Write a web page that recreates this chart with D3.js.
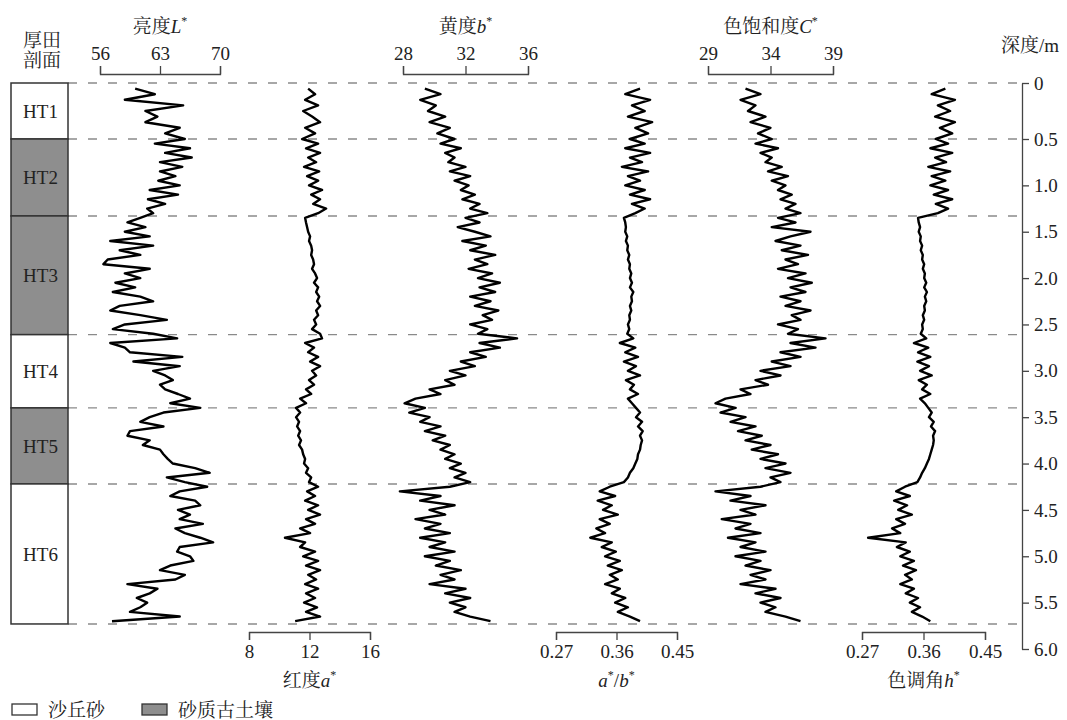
<!DOCTYPE html>
<html>
<head>
<meta charset="utf-8">
<script src="https://cdn.jsdelivr.net/npm/d3@7/dist/d3.min.js"></script>
<style>
  body { margin: 0; background: #fff; }
  svg text { font-family: "Liberation Serif", "Noto Serif CJK SC", "Noto Sans CJK SC", serif; fill: #222; }
</style>
</head>
<body>
<svg id="chart" width="1067" height="720"></svg>
<script>
// sample depths (m), every 5 cm from 0.05 to 5.70
var depth = d3.range(1, 115).map(function (i) { return +(i * 0.05).toFixed(2); });

var layerNames = ['HT1', 'HT2', 'HT3', 'HT4', 'HT5', 'HT6'];
var layerTops = [0, 0.5, 1.33, 2.61, 3.40, 4.22];
var layerBottoms = [0.5, 1.33, 2.61, 3.40, 4.22, 5.73];
var layerSoil = [false, true, true, false, true, false];

var depthTicks = [0, 0.5, 1.0, 1.5, 2.0, 2.5, 3.0, 3.5, 4.0, 4.5, 5.0, 5.5, 6.0];

// 亮度 L*
var lightL = [60.1, 62.4, 58.9, 65.7, 61.3, 62.7, 61.3, 65.3, 63.6, 65.9,
  62.4, 66.5, 63.6, 66.7, 63.0, 65.6, 63.0, 64.8, 62.8, 65.3, 61.8, 65.1, 61.6, 63.6, 61.5, 62.2,
  60.7, 59.2, 61.3, 58.9, 61.8, 57.2, 62.2, 58.3, 60.7, 56.9, 56.4, 61.8, 58.9, 60.7, 57.8, 60.1, 57.5, 60.7, 62.2, 58.3, 57.2, 60.7, 63.8, 58.9, 57.5, 62.2,
  65.0, 57.2, 58.9, 59.5, 65.6, 59.9, 65.3, 62.2, 63.6, 64.5, 63.0, 63.6, 65.1, 66.5, 64.2, 67.7,
  63.4, 61.8, 60.7, 63.4, 59.5, 59.2, 61.8, 61.0, 63.0, 63.4, 63.9, 64.5, 67.1, 68.8, 63.8, 65.9,
  68.5, 65.3, 64.2, 67.1, 67.7, 65.1, 66.5, 65.3, 68.0, 64.8, 65.9, 67.7, 69.2, 65.3, 65.0, 66.5, 66.9, 64.2, 63.0, 65.9, 64.8, 59.2, 62.7, 61.8, 60.3, 61.5, 60.7, 59.5, 65.3, 57.4];

// 红度 a*
var redA = [11.91, 12.37, 11.71, 12.57, 11.58, 12.17, 12.70, 11.71, 12.37, 11.51,
  12.57, 11.77, 12.70, 11.91, 12.44, 11.64, 12.64, 11.84, 12.57, 11.97, 12.83, 12.11, 12.70, 12.24, 13.10, 12.57,
  11.71, 11.77, 11.84, 11.91, 12.04, 11.97, 12.11, 12.17, 12.11, 12.24, 12.30, 12.17, 12.37, 12.50, 12.30, 12.57, 12.44, 12.64, 12.50, 12.70, 12.44, 12.57, 12.30, 12.44, 12.17, 12.70,
  12.83, 11.71, 12.30, 11.91, 12.57, 12.04, 12.70, 12.17, 12.44, 11.97, 12.30, 11.77, 12.11, 11.38, 11.77, 11.11,
  11.38, 11.11, 11.31, 11.18, 11.38, 11.25, 11.44, 11.31, 11.51, 11.58, 11.71, 11.64, 11.91, 11.77, 12.11, 11.97,
  12.57, 11.84, 12.37, 11.71, 12.57, 11.91, 12.70, 11.77, 12.37, 11.38, 12.04, 10.38, 11.71, 11.38, 12.37, 11.58, 12.57, 11.77, 12.70, 11.91, 12.44, 11.71, 12.57, 11.77, 12.37, 11.64, 12.50, 11.77, 12.70, 11.05];

// 黄度 b*
var yellowB = [29.4, 30.4, 29.1, 30.1, 29.6, 30.7, 29.7, 31.0, 30.2, 31.3,
  30.4, 31.7, 30.7, 31.3, 30.9, 32.0, 31.0, 32.3, 31.3, 32.2, 31.7, 32.6, 31.8, 32.9, 32.3, 33.4,
  32.0, 32.9, 31.5, 32.6, 33.6, 31.8, 33.3, 32.3, 33.9, 32.6, 33.4, 32.2, 33.7, 32.8, 34.2, 32.9, 33.9, 32.3, 33.6, 32.6, 34.1, 33.1, 33.7, 32.3, 33.4, 32.8,
  35.3, 32.9, 34.2, 32.3, 33.3, 31.7, 32.6, 31.0, 32.0, 30.7, 31.3, 29.7, 30.4, 28.8, 28.1, 29.4,
  28.4, 29.7, 29.1, 30.4, 29.4, 30.7, 29.9, 31.0, 30.4, 31.3, 30.7, 31.7, 31.0, 32.0, 31.3, 32.3,
  31.0, 27.8, 30.4, 29.1, 31.3, 29.7, 30.7, 28.8, 30.4, 29.4, 31.0, 29.1, 30.7, 29.7, 31.3, 29.4, 31.0, 30.1, 31.7, 30.4, 31.3, 29.7, 32.0, 30.7, 32.3, 31.0, 32.0, 31.3, 32.3, 33.6];

// a*/b*
var ratioAB = [0.395, 0.373, 0.410, 0.383, 0.402, 0.377, 0.413, 0.388, 0.407, 0.380,
  0.402, 0.373, 0.410, 0.380, 0.398, 0.368, 0.407, 0.377, 0.395, 0.373, 0.402, 0.380, 0.410, 0.383, 0.402, 0.388,
  0.371, 0.373, 0.374, 0.373, 0.376, 0.374, 0.377, 0.376, 0.379, 0.377, 0.380, 0.379, 0.382, 0.380, 0.383, 0.380, 0.385, 0.382, 0.383, 0.380, 0.382, 0.379, 0.380, 0.377, 0.379, 0.376,
  0.385, 0.365, 0.388, 0.373, 0.392, 0.371, 0.389, 0.377, 0.395, 0.374, 0.386, 0.380, 0.392, 0.377, 0.383, 0.389,
  0.395, 0.389, 0.398, 0.392, 0.399, 0.395, 0.398, 0.396, 0.395, 0.392, 0.391, 0.388, 0.385, 0.380, 0.377, 0.371,
  0.350, 0.335, 0.358, 0.332, 0.353, 0.340, 0.362, 0.335, 0.350, 0.330, 0.343, 0.321, 0.353, 0.338, 0.359, 0.343, 0.365, 0.347, 0.368, 0.350, 0.362, 0.343, 0.365, 0.353, 0.373, 0.358, 0.377, 0.362, 0.380, 0.395];

// 色饱和度 C*
var chromaC = [32.0, 33.2, 31.6, 32.8, 32.2, 33.6, 32.4, 34.0, 33.0, 34.1,
  32.8, 34.6, 33.2, 34.1, 33.6, 34.9, 33.8, 35.4, 34.1, 35.2, 34.6, 35.7, 34.8, 36.0, 35.2, 36.4,
  34.6, 36.0, 34.1, 37.2, 35.6, 34.4, 36.4, 34.9, 37.0, 35.2, 36.2, 34.6, 36.8, 35.4, 37.3, 35.6, 36.8, 34.8, 36.4, 35.2, 37.2, 35.7, 36.4, 34.6, 36.2, 35.4,
  38.4, 35.6, 37.6, 34.8, 36.4, 34.1, 35.6, 33.2, 34.8, 32.8, 33.8, 31.6, 32.4, 30.4, 29.6, 31.2,
  30.0, 32.0, 30.8, 32.8, 31.4, 33.3, 32.0, 34.0, 32.5, 34.6, 33.2, 35.2, 33.6, 35.6, 34.0, 34.8,
  33.2, 29.6, 32.4, 30.8, 33.6, 31.6, 32.8, 30.1, 32.4, 31.2, 33.2, 30.6, 32.8, 31.6, 33.6, 31.2, 33.2, 32.0, 34.0, 32.4, 33.6, 31.6, 34.4, 32.8, 34.8, 33.2, 34.4, 33.6, 35.2, 36.4];

// 色调角 h*
var hueH = [0.392, 0.372, 0.406, 0.381, 0.399, 0.377, 0.406, 0.384, 0.402, 0.378,
  0.396, 0.370, 0.402, 0.377, 0.393, 0.367, 0.399, 0.372, 0.392, 0.370, 0.396, 0.375, 0.402, 0.378, 0.396, 0.381,
  0.352, 0.353, 0.355, 0.353, 0.356, 0.355, 0.358, 0.356, 0.359, 0.358, 0.361, 0.359, 0.362, 0.361, 0.364, 0.361, 0.365, 0.362, 0.364, 0.361, 0.362, 0.359, 0.361, 0.358, 0.359, 0.356,
  0.364, 0.346, 0.367, 0.352, 0.370, 0.351, 0.368, 0.355, 0.372, 0.353, 0.365, 0.358, 0.370, 0.355, 0.362, 0.367,
  0.372, 0.368, 0.375, 0.371, 0.377, 0.374, 0.375, 0.374, 0.372, 0.370, 0.368, 0.365, 0.362, 0.358, 0.355, 0.351,
  0.333, 0.320, 0.340, 0.317, 0.336, 0.323, 0.343, 0.320, 0.333, 0.314, 0.326, 0.279, 0.334, 0.321, 0.340, 0.326, 0.346, 0.330, 0.349, 0.333, 0.343, 0.326, 0.346, 0.334, 0.352, 0.340, 0.355, 0.343, 0.358, 0.370];

var panels = [
  { values: lightL,  domain: [56, 70],     ticks: [56, 63, 70],       range: [100, 220], side: 'top',
    title: [['亮度'], ['L', 'i'], ['*', 's']] },
  { values: redA,    domain: [8, 16],      ticks: [8, 12, 16],        range: [249, 370], side: 'bottom',
    title: [['红度'], ['a', 'i'], ['*', 's']] },
  { values: yellowB, domain: [28, 36],     ticks: [28, 32, 36],       range: [403, 528], side: 'top',
    title: [['黄度'], ['b', 'i'], ['*', 's']] },
  { values: ratioAB, domain: [0.27, 0.45], ticks: [0.27, 0.36, 0.45], range: [556, 677], side: 'bottom',
    title: [['a', 'i'], ['*', 's'], ['/'], ['b', 'i'], ['*', 's']] },
  { values: chromaC, domain: [29, 39],     ticks: [29, 34, 39],       range: [708, 833], side: 'top',
    title: [['色饱和度'], ['C', 'i'], ['*', 's']] },
  { values: hueH,    domain: [0.27, 0.45], ticks: [0.27, 0.36, 0.45], range: [862, 985], side: 'bottom',
    title: [['色调角'], ['h', 'i'], ['*', 's']] }
];

var svg = d3.select('#chart');
var fontSize = 19;
var axisX = 1022, colLeft = 11, colRight = 68;

var y = d3.scaleLinear().domain([0, 0.5, 6]).range([83, 139, 649]);

function richText(sel, parts) {
  var raised = false;
  parts.forEach(function (p) {
    var t = sel.append('tspan').text(p[0]);
    if (p[1] === 'i') t.attr('font-style', 'italic');
    if (p[1] === 's') {
      t.attr('font-size', 12).attr('dy', -8);
      raised = true;
    } else if (raised) {
      t.attr('dy', 8);
      raised = false;
    }
  });
}

// boundary dashed lines
var bounds = [0].concat(layerBottoms);
svg.append('g').selectAll('line').data(bounds).join('line')
  .attr('x1', colRight).attr('x2', axisX)
  .attr('y1', function (d) { return y(d); }).attr('y2', function (d) { return y(d); })
  .attr('stroke', '#8a8a8a').attr('stroke-width', 1.4).attr('stroke-dasharray', '9,11');

// stratigraphic column
var col = svg.append('g');
col.selectAll('rect').data(layerNames).join('rect')
  .attr('x', colLeft).attr('width', colRight - colLeft)
  .attr('y', function (d, i) { return y(layerTops[i]); })
  .attr('height', function (d, i) { return y(layerBottoms[i]) - y(layerTops[i]); })
  .attr('fill', function (d, i) { return layerSoil[i] ? '#8e8e8e' : '#fff'; })
  .attr('stroke', '#333').attr('stroke-width', 1.5);
col.selectAll('text').data(layerNames).join('text')
  .attr('x', (colLeft + colRight) / 2 + 1)
  .attr('y', function (d, i) { return (y(layerTops[i]) + y(layerBottoms[i])) / 2; })
  .attr('dy', '0.35em').attr('text-anchor', 'middle').attr('font-size', fontSize)
  .text(function (d) { return d; });

svg.append('text').attr('x', 42).attr('y', 47).attr('text-anchor', 'middle')
  .attr('font-size', fontSize).text('厚田');
svg.append('text').attr('x', 42).attr('y', 67).attr('text-anchor', 'middle')
  .attr('font-size', fontSize).text('剖面');

// depth axis
var depthAxis = svg.append('g').attr('transform', 'translate(' + axisX + ',0)')
  .call(d3.axisRight(y).tickValues(depthTicks).tickSize(7).tickSizeOuter(0).tickPadding(5)
    .tickFormat(function (d) { return d === 0 ? '0' : d3.format('.1f')(d); }));
depthAxis.selectAll('text').attr('font-size', fontSize).attr('font-family', null);
depthAxis.selectAll('path, line').attr('stroke', '#444').attr('stroke-width', 1.3);
svg.append('text').attr('x', 1030).attr('y', 52).attr('text-anchor', 'middle')
  .attr('font-size', fontSize).text('深度/m');

// curves and their value axes
var line = d3.line().curve(d3.curveLinear);
panels.forEach(function (p) {
  var x = d3.scaleLinear().domain(p.domain).range(p.range);
  var pts = p.values.map(function (v, i) { return [x(v), y(depth[i])]; });
  svg.append('path').datum(pts).attr('d', line)
    .attr('fill', 'none').attr('stroke', '#000').attr('stroke-width', 2.4)
    .attr('stroke-linejoin', 'round');

  var top = p.side === 'top';
  var axis = (top ? d3.axisTop(x) : d3.axisBottom(x))
    .tickValues(p.ticks).tickSize(8).tickSizeOuter(8).tickPadding(top ? 6 : 5)
    .tickFormat(function (d) { return String(d); });
  var g = svg.append('g').attr('transform', 'translate(0,' + (top ? 74 : 632) + ')').call(axis);
  g.selectAll('text').attr('font-size', fontSize).attr('font-family', null);
  g.selectAll('path, line').attr('stroke', '#444').attr('stroke-width', 1.3);

  var t = svg.append('text').attr('x', (p.range[0] + p.range[1]) / 2)
    .attr('y', top ? 33 : 687).attr('text-anchor', 'middle').attr('font-size', fontSize);
  richText(t, p.title);
});

// legend
var legend = [['沙丘砂', '#fff', 12], ['砂质古土壤', '#8e8e8e', 142]];
legend.forEach(function (l) {
  svg.append('rect').attr('x', l[2]).attr('y', 704).attr('width', 25).attr('height', 11)
    .attr('fill', l[1]).attr('stroke', '#333').attr('stroke-width', 1.3);
  svg.append('text').attr('x', l[2] + 36).attr('y', 717).attr('font-size', fontSize).text(l[0]);
});
</script>
</body>
</html>
